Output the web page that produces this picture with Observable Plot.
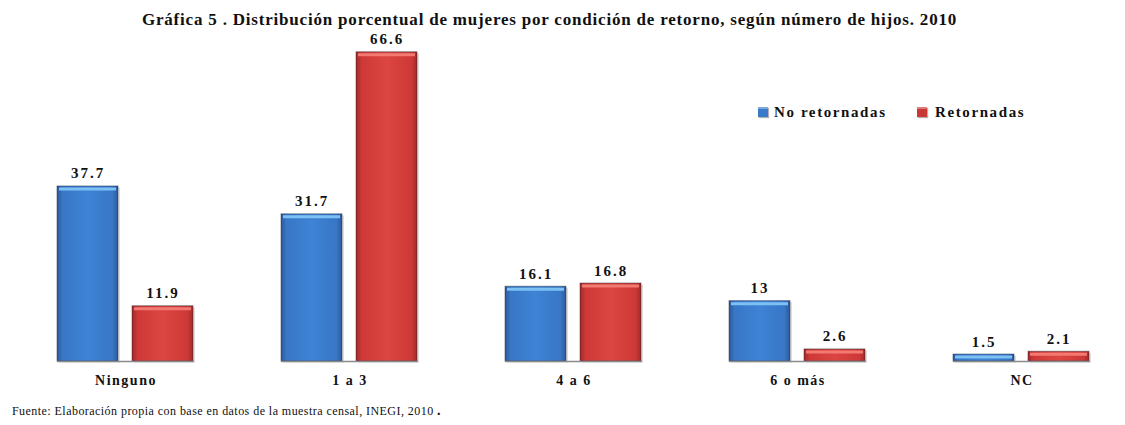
<!DOCTYPE html>
<html>
<head>
<meta charset="utf-8">
<script src="https://cdn.jsdelivr.net/npm/d3@7"></script>
<script src="https://cdn.jsdelivr.net/npm/@observablehq/plot@0.6"></script>
<style>
  html, body { margin: 0; padding: 0; background: #fff; overflow: hidden; }
  #wrap { position: relative; width: 1125px; height: 425px; font-family: "Liberation Serif", "Times New Roman", serif; }
  #title { position: absolute; left: 0; top: 11px; width: 1099px; line-height: 17px; font-size: 17px; font-weight: bold; text-align: center; letter-spacing: 0.8px; color: #111; white-space: nowrap; }
  #legend { position: absolute; left: 758px; top: 104px; font-size: 15px; font-weight: bold; letter-spacing: 1.6px; color: #111; white-space: nowrap; }
  #legend .item { position: absolute; top: 0; line-height: 17px; }
  #legend .sw { position: absolute; top: 3px; width: 10px; height: 10px; }
  #footer { position: absolute; left: 12px; top: 403px; font-size: 12px; letter-spacing: 0.45px; color: #111; white-space: nowrap; }
  #chart { position: absolute; left: 0; top: 0; }
</style>
</head>
<body>
<div id="wrap">
  <div id="chart"></div>
  <div id="title"></div>
  <div id="legend"></div>
  <div id="footer"></div>
</div>
<script>
const titleText = "Gráfica 5 . Distribución porcentual de mujeres por condición de retorno, según número de hijos. 2010";
const footerText = "Fuente: Elaboración propia con base en datos de la muestra censal, INEGI, 2010";
const categories = ["Ninguno", "1 a 3", "4 a 6", "6 o más", "NC"];
const series = ["No retornadas", "Retornadas"];
const noRetornadas = [37.7, 31.7, 16.1, 13, 1.5];
const retornadas = [11.9, 66.6, 16.8, 2.6, 2.1];

const seriesValues = [noRetornadas, retornadas];
const data = [];
categories.forEach((c, i) => {
  series.forEach((s, j) => data.push({cat: c, series: s, value: seriesValues[j][i]}));
});
const highlight = {"No retornadas": "#7cc0f4", "Retornadas": "#f27a72"};

const chart = Plot.plot({
  width: 1125,
  height: 425,
  marginTop: 36,
  marginBottom: 64,
  marginLeft: 10,
  marginRight: 0,
  style: {fontFamily: "'Liberation Serif', 'Times New Roman', serif", background: "transparent", color: "#111"},
  fx: {domain: categories, paddingInner: 0.387, paddingOuter: 0.1714, align: 0.571, label: null},
  x: {domain: series, paddingInner: 0.184, paddingOuter: 0, axis: null},
  y: {domain: [0, 70], axis: null},
  color: {domain: series, range: ["url(#gBlue)", "url(#gRed)"]},
  marks: [
    Plot.barY(data, {fx: "cat", x: "series", y: "value", fill: "#000", fillOpacity: 0.13, dx: 2, dy: 1.5}),
    Plot.barY(data, {fx: "cat", x: "series", y: "value", fill: "series", stroke: "#1c2433", strokeOpacity: 0.45, strokeWidth: 1}),
    Plot.tickY(data.filter(d => d.series === series[0]), {fx: "cat", x: "series", y: "value", stroke: highlight[series[0]], strokeWidth: 3, dy: 2.5, inset: 2}),
    Plot.tickY(data.filter(d => d.series === series[1]), {fx: "cat", x: "series", y: "value", stroke: highlight[series[1]], strokeWidth: 3, dy: 2.5, inset: 2}),
    Plot.text(data, {fx: "cat", x: "series", y: "value", text: d => String(d.value), lineAnchor: "bottom", dy: -8, fontSize: 15, fontWeight: "bold", fill: "#111"}),
    Plot.ruleY([0], {stroke: "#8a8a8a", strokeWidth: 1.3}),
    Plot.axisFx({anchor: "bottom", tickSize: 0, tickPadding: 14, fontSize: 14, fontWeight: "bold", label: null})
  ]
});
document.getElementById("chart").appendChild(chart);

const svg = d3.select(chart);
const defs = svg.insert("defs", ":first-child");
function grad(id, stops) {
  const g = defs.append("linearGradient").attr("id", id).attr("x1", "0").attr("x2", "1").attr("y1", "0").attr("y2", "0");
  stops.forEach(([o, c]) => g.append("stop").attr("offset", o).attr("stop-color", c));
}
grad("gBlue", [["0%", "#2b5a98"], ["9%", "#3876c6"], ["50%", "#3e83d6"], ["91%", "#3876c6"], ["100%", "#2b5a98"]]);
grad("gRed", [["0%", "#a52828"], ["9%", "#cd3937"], ["50%", "#dc4541"], ["91%", "#cd3937"], ["100%", "#a52828"]]);
svg.selectAll("text").style("letter-spacing", "2px");
svg.selectAll("[aria-label='fx-axis tick label'] text").style("letter-spacing", "1.5px");

document.getElementById("title").textContent = titleText;
const foot = document.getElementById("footer");
foot.textContent = footerText + " ";
const dot = document.createElement("b");
dot.textContent = ".";
dot.style.fontSize = "14px";
foot.appendChild(dot);

const legend = document.getElementById("legend");
const legendX = [0, 159];
const legendColors = ["#3a78c8", "#c93836"];
series.forEach((s, i) => {
  const item = document.createElement("div");
  item.className = "item";
  item.style.left = legendX[i] + "px";
  const sw = document.createElement("span");
  sw.className = "sw";
  sw.style.left = "0px";
  sw.style.background = legendColors[i];
  sw.style.boxShadow = "inset 0 2px 0 rgba(255,255,255,0.35), 1px 1px 1px rgba(0,0,0,0.3)";
  item.appendChild(sw);
  const t = document.createElement("span");
  t.style.marginLeft = (i === 0 ? 16 : 18) + "px";
  t.textContent = s;
  item.appendChild(t);
  legend.appendChild(item);
});
</script>
</body>
</html>
